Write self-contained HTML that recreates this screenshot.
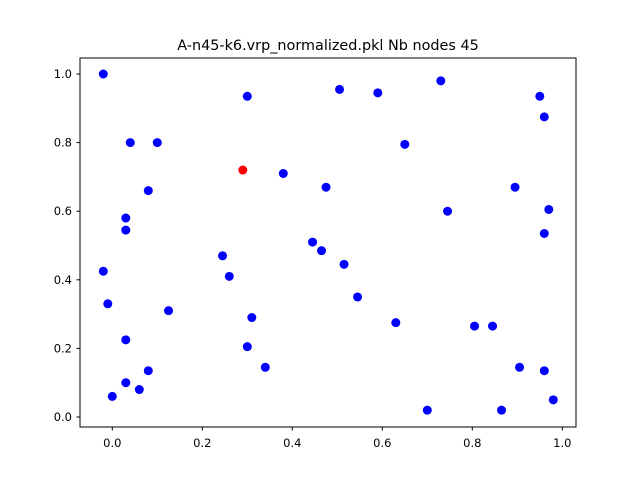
<!DOCTYPE html>
<html><head><meta charset="utf-8"><style>
body{margin:0;background:#fff;}
svg{display:block;font-family:"DejaVu Sans","Liberation Sans",sans-serif;}
</style></head><body>
<svg id="chart" width="640" height="480" viewBox="0 0 640 480">
<rect width="640" height="480" fill="#fff"/>
<text x="328" y="50" text-anchor="middle" font-size="14.4">A-n45-k6.vrp_normalized.pkl Nb nodes 45</text>
<g id="ticks"></g>
<g id="points"></g>
<rect x="80" y="58" width="496" height="369" fill="none" stroke="#000" stroke-width="1"/>
</svg>
<script>
const xs=[-0.02,0.30,0.04,0.10,0.08,0.03,0.03,-0.02,-0.01,0.03,0.03,0.0,0.06,0.08,0.125,0.245,0.26,0.31,0.30,0.34,0.38,0.475,0.445,0.465,0.515,0.545,0.505,0.59,0.65,0.63,0.73,0.745,0.805,0.845,0.70,0.865,0.95,0.96,0.895,0.97,0.96,0.905,0.96,0.98];
const ys=[1.0,0.935,0.80,0.80,0.66,0.58,0.545,0.425,0.33,0.225,0.10,0.06,0.08,0.135,0.31,0.47,0.41,0.29,0.205,0.145,0.71,0.67,0.51,0.485,0.445,0.35,0.955,0.945,0.795,0.275,0.98,0.60,0.265,0.265,0.02,0.02,0.935,0.875,0.67,0.605,0.535,0.145,0.135,0.05];
const depotX=[0.29];
const depotY=[0.72];
const xTicks=[0.0,0.2,0.4,0.6,0.8,1.0];
const yTicks=[0.0,0.2,0.4,0.6,0.8,1.0];
const NS="http://www.w3.org/2000/svg";
const sx=v=>112.3+v*450;
const sy=v=>417-v*343;
const tg=document.getElementById('ticks');
function mk(tag,attrs,parent){const e=document.createElementNS(NS,tag);for(const k in attrs)e.setAttribute(k,attrs[k]);parent.appendChild(e);return e;}
xTicks.forEach(t=>{
  const l=mk('line',{x1:sx(t),x2:sx(t),y1:427,y2:430.5,stroke:'#000'},tg);
  
  
  const tx=mk('text',{x:sx(t),y:447,'text-anchor':'middle','font-size':'11.5'},tg);
  tx.textContent=t.toFixed(1);
  
  
});
yTicks.forEach(t=>{
  const l=mk('line',{x1:76.5,x2:80,y1:sy(t),y2:sy(t),stroke:'#000'},tg);
  
  
  const tx=mk('text',{x:72,y:sy(t)+4,'text-anchor':'end','font-size':'11.5'},tg);
  tx.textContent=t.toFixed(1);
  
  
});
const pg=document.getElementById('points');
xs.forEach((x,i)=>{
  const c=mk('circle',{cx:sx(x),cy:sy(ys[i]),r:4.5,fill:'#0000ff'},pg);
  
  
});
depotX.forEach((x,i)=>{
  const c=mk('circle',{cx:sx(x),cy:sy(depotY[i]),r:4.5,fill:'#ff0000'},pg);
  
  
});
</script>
</body></html>
